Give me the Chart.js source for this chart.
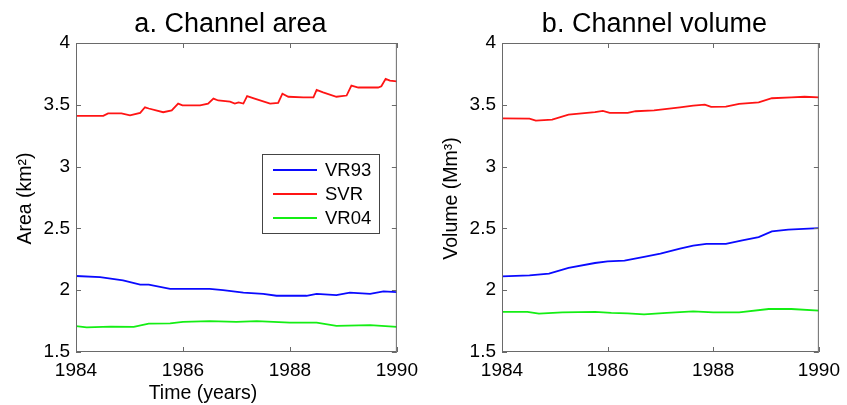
<!DOCTYPE html>
<html>
<head>
<meta charset="utf-8">
<script src="https://cdn.jsdelivr.net/npm/chart.js@4.4.1/dist/chart.umd.min.js"></script>
<style>
  html, body { margin: 0; padding: 0; background: #fff; }
  #wrap { position: relative; width: 847px; height: 405px; overflow: hidden; }
  .panel { position: absolute; top: 0; height: 405px; }
  #p1 { left: 0; width: 425px; }
  #p2 { left: 425px; width: 422px; }
</style>
</head>
<body>
<div id="wrap">
  <div class="panel" id="p1"><canvas id="areaChart"></canvas></div>
  <div class="panel" id="p2"><canvas id="volChart"></canvas></div>
</div>
<script>
// series names
const seriesNames = ['VR93', 'SVR', 'VR04'];
const seriesColors = ['#0a0aff', '#ff1414', '#14ee14'];

// a. channel area (km2)
const areaTimeVR93 = [1984, 1984.45, 1984.88, 1985.2, 1985.36, 1985.76, 1986, 1986.5, 1986.75, 1987.13, 1987.5, 1987.75, 1988.31, 1988.5, 1988.87, 1989.12, 1989.5, 1989.75, 1990];
const areaVR93 = [2.115, 2.105, 2.08, 2.045, 2.045, 2.01, 2.01, 2.01, 2.0, 1.98, 1.97, 1.955, 1.955, 1.97, 1.96, 1.98, 1.97, 1.99, 1.985];
const areaTimeSVR = [1984, 1984.51, 1984.6, 1984.85, 1985.01, 1985.2, 1985.29, 1985.36, 1985.63, 1985.79, 1985.91, 1985.99, 1986.32, 1986.47, 1986.57, 1986.66, 1986.88, 1986.97, 1987.04, 1987.13, 1987.2, 1987.34, 1987.63, 1987.78, 1987.86, 1987.97, 1988.25, 1988.44, 1988.5, 1988.62, 1988.87, 1989.06, 1989.15, 1989.28, 1989.65, 1989.71, 1989.79, 1989.87, 1990];
const areaSVR = [3.41, 3.41, 3.43, 3.43, 3.415, 3.435, 3.48, 3.47, 3.44, 3.455, 3.51, 3.495, 3.495, 3.51, 3.55, 3.535, 3.525, 3.51, 3.52, 3.51, 3.57, 3.55, 3.51, 3.515, 3.59, 3.565, 3.56, 3.56, 3.62, 3.6, 3.565, 3.575, 3.655, 3.64, 3.64, 3.65, 3.71, 3.695, 3.69];
const areaTimeVR04 = [1984, 1984.2, 1984.65, 1985.08, 1985.36, 1985.76, 1986, 1986.5, 1987, 1987.38, 1988, 1988.5, 1988.87, 1989.5, 1990];
const areaVR04 = [1.71, 1.70, 1.705, 1.703, 1.73, 1.732, 1.743, 1.75, 1.743, 1.75, 1.737, 1.737, 1.712, 1.718, 1.703];

// b. channel volume (Mm3)
const volTimeVR93 = [1984, 1984.52, 1984.89, 1985.26, 1985.76, 1986, 1986.32, 1986.69, 1987, 1987.37, 1987.62, 1987.87, 1988.24, 1988.55, 1988.86, 1989.11, 1989.42, 1990];
const volVR93 = [2.112, 2.12, 2.134, 2.18, 2.22, 2.234, 2.239, 2.269, 2.296, 2.336, 2.36, 2.374, 2.374, 2.404, 2.43, 2.476, 2.49, 2.503];
const volTimeSVR = [1984, 1984.52, 1984.64, 1984.95, 1985.26, 1985.76, 1985.91, 1986.04, 1986.38, 1986.53, 1986.88, 1987.37, 1987.62, 1987.84, 1987.96, 1988.24, 1988.49, 1988.86, 1989.11, 1989.48, 1989.73, 1990];
const volSVR = [3.39, 3.388, 3.372, 3.38, 3.42, 3.44, 3.45, 3.435, 3.435, 3.448, 3.455, 3.48, 3.493, 3.502, 3.483, 3.485, 3.507, 3.52, 3.553, 3.56, 3.565, 3.56];
const volTimeVR04 = [1984, 1984.48, 1984.7, 1985.14, 1985.76, 1986.07, 1986.38, 1986.69, 1987.12, 1987.62, 1988, 1988.49, 1989.05, 1989.48, 1990];
const volVR04 = [1.825, 1.825, 1.81, 1.821, 1.824, 1.816, 1.813, 1.805, 1.816, 1.829, 1.821, 1.821, 1.848, 1.848, 1.835];

const xTicks = [1984, 1986, 1988, 1990];
const yTicks = [1.5, 2, 2.5, 3, 3.5, 4];

const FONT = '"Liberation Sans", Arial, Helvetica, sans-serif';
const TEXT = '#000';
const FRAME = '#6a6a6a';

const toPts = (t, v) => t.map((x, i) => ({ x: x, y: v[i] }));

function makeSet(i, t, v) {
  return {
    label: seriesNames[i],
    data: toPts(t, v),
    borderColor: seriesColors[i],
    backgroundColor: seriesColors[i],
    borderWidth: 1.8,
    pointRadius: 0,
    tension: 0,
  };
}

// box, inward ticks, titles and legend drawn matlab style
const matlabFrame = {
  id: 'matlabFrame',
  afterDraw(chart, args, opts) {
    const c = chart.ctx;
    const a = chart.chartArea;
    const xs = chart.scales.x, ys = chart.scales.y;
    c.save();
    c.strokeStyle = FRAME;
    c.lineWidth = 1;
    c.strokeRect(a.left + 0.5, a.top + 0.5, a.right - a.left - 1, a.bottom - a.top - 1);
    c.beginPath();
    xTicks.forEach(v => {
      const px = Math.round(xs.getPixelForValue(v)) + 0.5;
      c.moveTo(px, a.bottom); c.lineTo(px, a.bottom - 5);
      c.moveTo(px, a.top); c.lineTo(px, a.top + 5);
    });
    yTicks.forEach(v => {
      const py = Math.round(ys.getPixelForValue(v)) + 0.5;
      c.moveTo(a.left, py); c.lineTo(a.left + 5, py);
      c.moveTo(a.right, py); c.lineTo(a.right - 5, py);
    });
    c.stroke();

    c.fillStyle = TEXT;
    c.textAlign = 'center';
    c.textBaseline = 'alphabetic';
    c.font = '27px ' + FONT;
    c.fillText(opts.title, (a.left + a.right) / 2 - 6, 32);

    c.font = '19.5px ' + FONT;
    c.save();
    c.translate(a.left - 50, (a.top + a.bottom) / 2 + 1);
    c.rotate(-Math.PI / 2);
    c.textBaseline = 'middle';
    c.fillText(opts.yTitle, 0, 0);
    c.restore();

    if (opts.xTitle) {
      c.textBaseline = 'middle';
      c.fillText(opts.xTitle, a.left + 127, 394);
    }

    if (opts.legend) {
      const L = opts.legend;
      c.fillStyle = '#fff';
      c.fillRect(L.x, L.y, L.w, L.h);
      c.strokeStyle = '#444';
      c.strokeRect(L.x + 0.5, L.y + 0.5, L.w, L.h);
      c.font = '18.5px ' + FONT;
      c.textAlign = 'left';
      c.textBaseline = 'middle';
      chart.data.datasets.forEach((ds, i) => {
        const ry = L.y + 16 + i * 24;
        c.strokeStyle = ds.borderColor;
        c.lineWidth = 2;
        c.beginPath();
        c.moveTo(L.x + 11, ry); c.lineTo(L.x + 55, ry);
        c.stroke();
        c.fillStyle = TEXT;
        c.fillText(ds.label, L.x + 63, ry + 1);
      });
    }
    c.restore();
  }
};

function makeChart(id, sets, pad, frame) {
  return new Chart(document.getElementById(id), {
    type: 'line',
    data: { datasets: sets },
    options: {
      responsive: true,
      maintainAspectRatio: false,
      animation: false,
      events: [],
      layout: { padding: { top: 43, left: 0, right: pad.right, bottom: 0 } },
      plugins: {
        legend: { display: false },
        title: { display: false },
        tooltip: { enabled: false },
        matlabFrame: frame,
      },
      scales: {
        x: {
          type: 'linear',
          min: 1984, max: 1990,
          afterBuildTicks: s => { s.ticks = xTicks.map(v => ({ value: v })); },
          afterFit: s => { s.height = 53; },
          grid: { display: false, drawTicks: false },
          border: { display: false },
          ticks: {
            padding: 7,
            color: TEXT,
            font: { family: FONT, size: 19 },
            maxRotation: 0,
            callback: v => String(v),
          },
        },
        y: {
          min: 1.5, max: 4,
          afterBuildTicks: s => { s.ticks = yTicks.map(v => ({ value: v })); },
          afterFit: s => { s.width = pad.left; },
          grid: { display: false, drawTicks: false },
          border: { display: false },
          ticks: {
            padding: 6,
            color: TEXT,
            font: { family: FONT, size: 19 },
            callback: v => String(v),
          },
        },
      },
    },
    plugins: [matlabFrame],
  });
}

makeChart('areaChart', [
  makeSet(0, areaTimeVR93, areaVR93),
  makeSet(1, areaTimeSVR, areaSVR),
  makeSet(2, areaTimeVR04, areaVR04),
], { left: 76, right: 28 }, {
  title: 'a. Channel area',
  yTitle: 'Area (km\u00B2)',
  xTitle: 'Time (years)',
  legend: { x: 262, y: 154, w: 117, h: 79 },
});

makeChart('volChart', [
  makeSet(0, volTimeVR93, volVR93),
  makeSet(1, volTimeSVR, volSVR),
  makeSet(2, volTimeVR04, volVR04),
], { left: 77, right: 23 }, {
  title: 'b. Channel volume',
  yTitle: 'Volume (Mm\u00B3)',
});
</script>
</body>
</html>
